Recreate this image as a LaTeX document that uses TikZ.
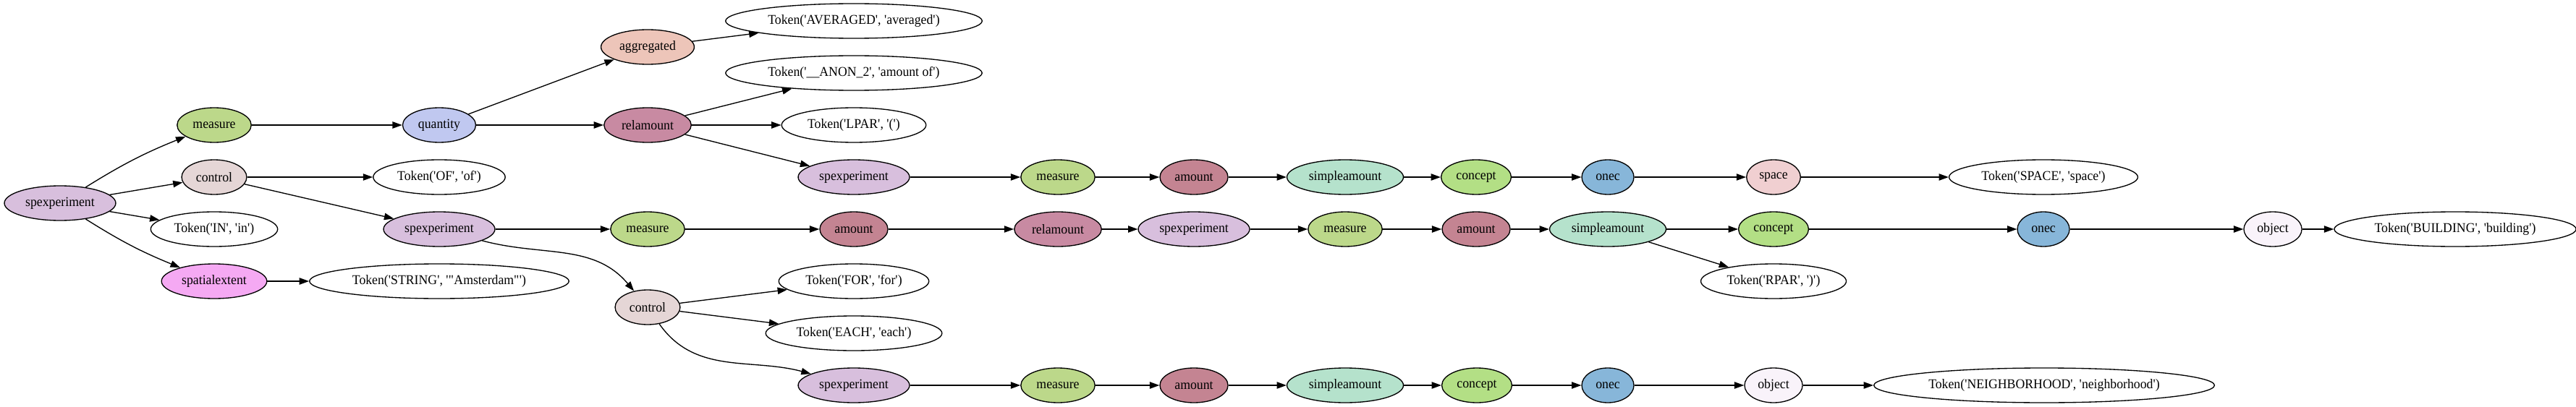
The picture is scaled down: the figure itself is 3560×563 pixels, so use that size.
\documentclass[tikz,border=0pt]{standalone}
\usepackage{fontspec}
\setmainfont{Liberation Serif}[FakeStretch=0.95]
\usepackage{tikz}
\usetikzlibrary{graphs,arrows.meta,shapes.geometric}

\definecolor{cSpexp}{HTML}{D8BFDD}
\definecolor{cMeasure}{HTML}{BCD88A}
\definecolor{cQuant}{HTML}{C0C8F0}
\definecolor{cRelam}{HTML}{C88AA2}
\definecolor{cAmount}{HTML}{C48492}
\definecolor{cControl}{HTML}{E5D6D6}
\definecolor{cSpatial}{HTML}{F5A9F3}
\definecolor{cAggr}{HTML}{EDC5B9}
\definecolor{cSimple}{HTML}{B5E2CC}
\definecolor{cConcept}{HTML}{B3DF85}
\definecolor{cOnec}{HTML}{87B6D9}
\definecolor{cSpace}{HTML}{F0CFD1}
\definecolor{cObject}{HTML}{F9F3FA}

\newcommand{\sq}{\textquotesingle}
\newcommand{\dq}{\textquotedbl}

\begin{document}
\begin{tikzpicture}[
			x=0.75pt, y=-0.75pt,
			>={Triangle[length=10pt,width=7pt]},
			gnode/.style={ellipse, draw, line width=1pt, inner xsep=5pt, inner ysep=2pt,
				minimum width=54pt, minimum height=36pt, font={\fontsize{14}{16}\selectfont}},
			tok/.style={gnode, fill=white},
			spexp/.style={gnode, fill=cSpexp},
			meas/.style={gnode, fill=cMeasure},
			quant/.style={gnode, fill=cQuant},
			relam/.style={gnode, fill=cRelam},
			amnt/.style={gnode, fill=cAmount},
			ctrl/.style={gnode, fill=cControl},
			spatial/.style={gnode, fill=cSpatial},
			aggr/.style={gnode, fill=cAggr},
			simple/.style={gnode, fill=cSimple},
			concept/.style={gnode, fill=cConcept},
			onec/.style={gnode, fill=cOnec},
			spc/.style={gnode, fill=cSpace},
			obj/.style={gnode, fill=cObject}
	]
	\useasboundingbox (0,0) rectangle (3560,563);

	% column 1 and 2
	\node[spexp] (sp0) at (83,281) {spexperiment};
	\node[meas] (m0) at (296,173) {measure};
	\node[ctrl] (c0) at (296,245) {control};
	\node[tok] (tIN) at (296,317) {Token(\sq IN\sq, \sq in\sq)};
	\node[spatial] (sx) at (296,389) {spatialextent};

	% column 3 and 4
	\node[quant] (q) at (607,173) {quantity};
	\node[tok] (tOF) at (607,245) {Token(\sq OF\sq, \sq of\sq)};
	\node[spexp] (sp1) at (607,317) {spexperiment};
	\node[tok] (tSTR) at (607,389) {Token(\sq STRING\sq, \sq\dq Amsterdam\dq\sq)};
	\node[aggr] (agg) at (895,65) {aggregated};
	\node[relam] (ra0) at (895,173) {relamount};
	\node[meas] (m1) at (895,317) {measure};
	\node[ctrl] (c1) at (895,425) {control};

	% column 5
	\node[tok] (tAVG) at (1180,29) {Token(\sq AVERAGED\sq, \sq averaged\sq)};
	\node[tok] (tANON) at (1180,101) {Token(\sq\_\_ANON\_2\sq, \sq amount of\sq)};
	\node[tok] (tLPAR) at (1180,173) {Token(\sq LPAR\sq, \sq(\sq)};
	\node[spexp] (sp2) at (1180,245) {spexperiment};
	\node[amnt] (a1) at (1180,317) {amount};
	\node[tok] (tFOR) at (1180,389) {Token(\sq FOR\sq, \sq for\sq)};
	\node[tok] (tEACH) at (1180,461) {Token(\sq EACH\sq, \sq each\sq)};
	\node[spexp] (sp3) at (1180,533) {spexperiment};

	% row of sp2
	\node[meas] (m2) at (1462,245) {measure};
	\node[amnt] (a2) at (1650,245) {amount};
	\node[simple] (s2) at (1859,245) {simpleamount};
	\node[concept] (k2) at (2040,245) {concept};
	\node[onec] (o2) at (2222,245) {onec};
	\node[spc] (sp) at (2451,245) {space};
	\node[tok] (tSPACE) at (2824,245) {Token(\sq SPACE\sq, \sq space\sq)};

	% row of a1
	\node[relam] (ra1) at (1462,317) {relamount};
	\node[spexp] (sp4) at (1650,317) {spexperiment};
	\node[meas] (m4) at (1859,317) {measure};
	\node[amnt] (a4) at (2040,317) {amount};
	\node[simple] (s4) at (2222,317) {simpleamount};
	\node[concept] (k4) at (2451,317) {concept};
	\node[tok] (tRPAR) at (2451,389) {Token(\sq RPAR\sq, \sq)\sq)};
	\node[onec] (o4) at (2824,317) {onec};
	\node[obj] (ob4) at (3141,317) {object};
	\node[tok] (tBLD) at (3393,317) {Token(\sq BUILDING\sq, \sq building\sq)};

	% row of sp3
	\node[meas] (m3) at (1462,533) {measure};
	\node[amnt] (a3) at (1650,533) {amount};
	\node[simple] (s3) at (1859,533) {simpleamount};
	\node[concept] (k3) at (2041,533) {concept};
	\node[onec] (o3) at (2222,533) {onec};
	\node[obj] (ob3) at (2451,533) {object};
	\node[tok] (tNBH) at (2825,533) {Token(\sq NEIGHBORHOOD\sq, \sq neighborhood\sq)};

	\graph [use existing nodes, edges={line width=1pt}]{
		sp0 ->[bend left=5] m0 -> q -> {agg -> tAVG, ra0 -> {tANON, tLPAR, sp2}};
		sp0 -> {c0, tIN};
		sp0 ->[bend right=5] sx -> tSTR;
		c0 -> {tOF, sp1};
		sp1 -> m1 -> a1 -> ra1 -> sp4 -> m4 -> a4 -> s4 -> {k4 -> o4 -> ob4 -> tBLD, tRPAR};
		sp1 ->[out=-15, in=130] c1 -> {tFOR, tEACH};
		c1 ->[out=-55, in=165] sp3 -> m3 -> a3 -> s3 -> k3 -> o3 -> ob3 -> tNBH;
		sp2 -> m2 -> a2 -> s2 -> k2 -> o2 -> sp -> tSPACE;
	};
\end{tikzpicture}
\end{document}
